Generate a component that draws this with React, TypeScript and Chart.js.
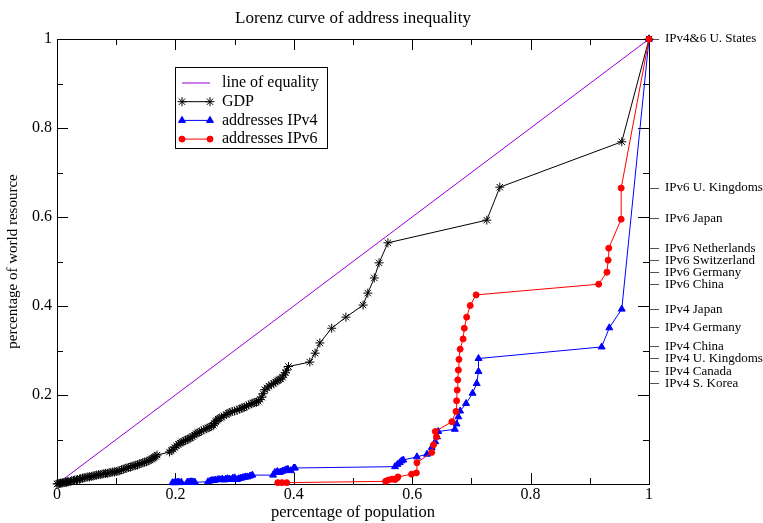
import React, { useEffect, useRef } from 'react';
import { Chart, registerables } from 'chart.js';
import { drawPoint } from 'chart.js/helpers';

Chart.register(...registerables);

const TITLE = 'Lorenz curve of address inequality';
const X_TITLE = 'percentage of population';
const Y_TITLE = 'percentage of world resource';
const SERIES_NAMES = ['line of equality', 'GDP', 'addresses IPv4', 'addresses IPv6'];

const EQUALITY_X = [0, 1];
const EQUALITY_Y = [0, 1];

const GDP_X = [
  0.0, 0.002, 0.004, 0.006, 0.008, 0.01, 0.012, 0.014, 0.016, 0.018, 0.02, 0.023, 0.025, 0.028, 0.03,
  0.033, 0.035, 0.038, 0.04, 0.043, 0.046, 0.049, 0.052, 0.055, 0.058, 0.061, 0.064, 0.067, 0.07, 0.073,
  0.076, 0.079, 0.082, 0.085, 0.088, 0.091, 0.094, 0.097, 0.1, 0.103, 0.106, 0.109, 0.112, 0.115, 0.118,
  0.121, 0.124, 0.127, 0.13, 0.133, 0.136, 0.139, 0.142, 0.145, 0.148, 0.151, 0.154, 0.157, 0.16, 0.162,
  0.164, 0.167, 0.169, 0.19, 0.193, 0.196, 0.199, 0.202, 0.205, 0.208, 0.211, 0.214, 0.217, 0.22, 0.223,
  0.226, 0.229, 0.232, 0.235, 0.238, 0.241, 0.244, 0.248, 0.252, 0.255, 0.258, 0.261, 0.264, 0.266, 0.268,
  0.27, 0.272, 0.275, 0.278, 0.282, 0.286, 0.289, 0.292, 0.296, 0.3, 0.304, 0.308, 0.311, 0.314, 0.317,
  0.32, 0.324, 0.328, 0.331, 0.334, 0.337, 0.34, 0.343, 0.346, 0.348, 0.351, 0.355, 0.358, 0.362, 0.366,
  0.369, 0.372, 0.375, 0.378, 0.381, 0.383, 0.386, 0.388, 0.391, 0.427, 0.436, 0.444, 0.464, 0.488, 0.517,
  0.525, 0.536, 0.544, 0.559, 0.726, 0.748, 0.954, 1.0,
];
const GDP_Y = [
  0.0, 0.001, 0.001, 0.002, 0.002, 0.003, 0.003, 0.004, 0.004, 0.005, 0.005, 0.006, 0.007, 0.008, 0.009,
  0.009, 0.01, 0.011, 0.012, 0.013, 0.014, 0.015, 0.016, 0.016, 0.017, 0.018, 0.019, 0.02, 0.021, 0.021,
  0.022, 0.023, 0.024, 0.024, 0.025, 0.026, 0.027, 0.027, 0.028, 0.029, 0.03, 0.032, 0.033, 0.035, 0.036,
  0.037, 0.038, 0.04, 0.041, 0.042, 0.043, 0.045, 0.046, 0.048, 0.049, 0.05, 0.052, 0.054, 0.056, 0.058,
  0.06, 0.062, 0.065, 0.072, 0.075, 0.078, 0.082, 0.086, 0.089, 0.092, 0.094, 0.096, 0.098, 0.1, 0.102,
  0.104, 0.107, 0.11, 0.113, 0.115, 0.117, 0.119, 0.122, 0.124, 0.126, 0.128, 0.13, 0.132, 0.136, 0.14,
  0.143, 0.146, 0.148, 0.15, 0.153, 0.156, 0.159, 0.161, 0.163, 0.164, 0.166, 0.168, 0.17, 0.171, 0.173,
  0.175, 0.178, 0.18, 0.182, 0.183, 0.184, 0.186, 0.19, 0.195, 0.203, 0.212, 0.216, 0.22, 0.223, 0.226,
  0.229, 0.232, 0.234, 0.236, 0.24, 0.245, 0.25, 0.256, 0.264, 0.274, 0.294, 0.317, 0.35, 0.375, 0.402,
  0.429, 0.463, 0.497, 0.542, 0.593, 0.667, 0.769, 1.0,
];

const IPV4_X = [
  0.195, 0.198, 0.2, 0.203, 0.205, 0.207, 0.21, 0.22, 0.222, 0.225, 0.228, 0.231, 0.233, 0.255, 0.259,
  0.262, 0.265, 0.268, 0.272, 0.275, 0.279, 0.282, 0.285, 0.288, 0.291, 0.294, 0.297, 0.3, 0.304, 0.307,
  0.31, 0.313, 0.316, 0.319, 0.322, 0.326, 0.33, 0.365, 0.368, 0.372, 0.375, 0.378, 0.381, 0.384, 0.387,
  0.39, 0.395, 0.4, 0.402, 0.571, 0.575, 0.579, 0.582, 0.585, 0.608, 0.625, 0.633, 0.639, 0.642, 0.644,
  0.672, 0.675, 0.678, 0.681, 0.691, 0.702, 0.709, 0.712, 0.712, 0.92, 0.933, 0.954, 1.0,
];
const IPV4_Y = [
  0.003, 0.003, 0.004, 0.004, 0.004, 0.003, 0.004, 0.004, 0.004, 0.005, 0.005, 0.004, 0.004, 0.005, 0.007,
  0.008, 0.008, 0.009, 0.01, 0.01, 0.011, 0.009, 0.011, 0.012, 0.011, 0.01, 0.013, 0.014, 0.01, 0.012,
  0.013, 0.014, 0.015, 0.016, 0.016, 0.018, 0.02, 0.02, 0.026, 0.028, 0.026, 0.027, 0.029, 0.03, 0.032,
  0.033, 0.03, 0.036, 0.036, 0.039, 0.044, 0.048, 0.052, 0.054, 0.061, 0.067, 0.082, 0.095, 0.106, 0.118,
  0.123, 0.135, 0.151, 0.164, 0.181, 0.204, 0.226, 0.253, 0.282, 0.308, 0.351, 0.393, 1.0,
];

const IPV6_X = [
  0.373, 0.38, 0.388, 0.555, 0.56, 0.566, 0.571, 0.574, 0.576, 0.599, 0.607, 0.608, 0.633,
  0.636, 0.641, 0.639, 0.667, 0.674, 0.675, 0.676, 0.677, 0.678, 0.679, 0.681, 0.686, 0.688, 0.692, 0.698,
  0.708, 0.915, 0.929, 0.931, 0.932, 0.953, 0.953, 1.0,
];
const IPV6_Y = [
  0.003, 0.003, 0.003, 0.006, 0.009, 0.011, 0.01, 0.013, 0.016, 0.022, 0.025, 0.048, 0.071,
  0.088, 0.106, 0.118, 0.14, 0.163, 0.187, 0.211, 0.234, 0.256, 0.28, 0.303, 0.326, 0.35, 0.375, 0.401,
  0.425, 0.449, 0.476, 0.503, 0.53, 0.595, 0.665, 1.0,
];

const RIGHT_VALUES = [1.0, 0.665, 0.596, 0.53, 0.503, 0.475, 0.449, 0.393, 0.351, 0.308, 0.281, 0.252, 0.225];
const RIGHT_LABELS = [
  'IPv4&6 U. States', 'IPv6 U. Kingdoms', 'IPv6 Japan', 'IPv6 Netherlands', 'IPv6 Switzerland',
  'IPv6 Germany', 'IPv6 China', 'IPv4 Japan', 'IPv4 Germany', 'IPv4 China', 'IPv4 U. Kingdoms',
  'IPv4 Canada', 'IPv4 S. Korea',
];

const FONT = "'Liberation Serif', 'Times New Roman', serif";
const fmt = (v: number) => String(Math.round(v * 10) / 10);
const pts = (xs: number[], ys: number[]) => xs.map((x, i) => ({ x, y: ys[i] }));

const innerTicks = {
  id: 'innerTicks',
  beforeDatasetsDraw(chart: any) {
    const { ctx, chartArea } = chart;
    const { left, right, top, bottom } = chartArea;
    const xs = chart.scales.x;
    const ys = chart.scales.y;
    ctx.save();
    ctx.strokeStyle = '#000';
    ctx.lineWidth = 1;
    ctx.beginPath();
    for (let k = 1; k < 10; k++) {
      const v = k / 10;
      const len = k % 2 === 0 ? 11 : 6;
      const px = Math.round(xs.getPixelForValue(v)) + 0.5;
      ctx.moveTo(px, bottom); ctx.lineTo(px, bottom - len);
      ctx.moveTo(px, top); ctx.lineTo(px, top + len);
      const py = Math.round(ys.getPixelForValue(v)) + 0.5;
      ctx.moveTo(left, py); ctx.lineTo(left + len, py);
      ctx.moveTo(right, py); ctx.lineTo(right - len, py);
    }
    ctx.stroke();
    ctx.restore();
  },
};

const LEGEND_ORDER = [3, 2, 1, 0];

const boxLegend = {
  id: 'boxLegend',
  afterDraw(chart: any) {
    const { ctx } = chart;
    ctx.save();
    ctx.fillStyle = '#fff';
    ctx.fillRect(175.5, 67.5, 152, 81);
    ctx.strokeStyle = '#000';
    ctx.lineWidth = 1;
    ctx.strokeRect(175.5, 67.5, 152, 81);
    LEGEND_ORDER.forEach((dsIndex, i) => {
      const ds = chart.data.datasets[dsIndex];
      const y = 83 + i * 18.7;
      ctx.strokeStyle = ds.borderColor;
      ctx.lineWidth = 1;
      ctx.beginPath();
      ctx.moveTo(182, y);
      ctx.lineTo(210, y);
      ctx.stroke();
      if (ds.pointRadius > 0) {
        ctx.fillStyle = ds.backgroundColor;
        ctx.strokeStyle = ds.borderColor;
        ctx.lineWidth = ds.pointBorderWidth;
        const o = { pointStyle: ds.pointStyle, rotation: 0, radius: ds.pointRadius, borderWidth: ds.pointBorderWidth };
        drawPoint(ctx, o, 182, y);
        drawPoint(ctx, o, 210, y);
      }
      ctx.fillStyle = '#000';
      ctx.font = `16px ${FONT}`;
      ctx.textBaseline = 'middle';
      ctx.textAlign = 'left';
      ctx.fillText(ds.label, 222, y);
    });
    ctx.restore();
  },
};

export default function App() {
  const ref = useRef<HTMLCanvasElement>(null);
  useEffect(() => {
    if (!ref.current) return;
    Chart.defaults.font.family = FONT;
    const chart = new Chart(ref.current, {
      type: 'scatter',
      data: {
        datasets: [
          {
            label: SERIES_NAMES[3], data: pts(IPV6_X, IPV6_Y), showLine: true,
            borderColor: '#ff0000', backgroundColor: '#ff0000', borderWidth: 1,
            pointStyle: 'circle', pointRadius: 3, pointBorderWidth: 1, clip: false,
          } as any,
          {
            label: SERIES_NAMES[2], data: pts(IPV4_X, IPV4_Y), showLine: true,
            borderColor: '#0000ff', backgroundColor: '#0000ff', borderWidth: 1,
            pointStyle: 'triangle', pointRadius: 4, pointBorderWidth: 1, clip: false,
          },
          {
            label: SERIES_NAMES[1], data: pts(GDP_X, GDP_Y), showLine: true,
            borderColor: '#000000', backgroundColor: '#000000', borderWidth: 1,
            pointStyle: 'star', pointRadius: 4.5, pointBorderWidth: 1, clip: false,
          },
          {
            label: SERIES_NAMES[0], data: pts(EQUALITY_X, EQUALITY_Y), showLine: true,
            borderColor: '#9400d3', backgroundColor: '#9400d3', borderWidth: 1,
            pointRadius: 0, pointBorderWidth: 0, clip: false,
          },
        ],
      },
      options: {
        responsive: false,
        animation: false,
        layout: { padding: 0 },
        plugins: { legend: { display: false }, tooltip: { enabled: false }, title: { display: false } },
        scales: {
          x: {
            type: 'linear', position: 'bottom', min: 0, max: 1,
            grid: { display: false, drawTicks: false },
            border: { display: true, color: '#000', width: 1 },
            ticks: { stepSize: 0.2, padding: 1, color: '#000', font: { size: 16 }, callback: (v: any) => fmt(Number(v)), autoSkip: false, maxRotation: 0 },
            title: { display: true, text: X_TITLE, color: '#000', font: { size: 16.5 }, padding: { top: 0, bottom: 0 } },
            afterFit: (s: any) => { s.height = 39; },
          },
          x2: {
            type: 'linear', position: 'top', min: 0, max: 1,
            grid: { display: false, drawTicks: false },
            border: { display: true, color: '#000', width: 1 },
            ticks: { display: false },
            title: { display: true, text: TITLE, color: '#000', font: { size: 17 }, padding: { top: 8, bottom: 0 } },
            afterFit: (s: any) => { s.height = 39; },
          },
          y: {
            type: 'linear', position: 'left', min: 0, max: 1,
            grid: { display: false, drawTicks: false },
            border: { display: true, color: '#000', width: 1 },
            ticks: { stepSize: 0.2, padding: 5, color: '#000', font: { size: 16 }, callback: (v: any) => (Number(v) === 0 ? '' : fmt(Number(v))) },
            title: { display: true, text: Y_TITLE, color: '#000', font: { size: 15 }, padding: { top: 4, bottom: 0 } },
            afterFit: (s: any) => { s.width = 57; },
          },
          y2: {
            type: 'linear', position: 'right', min: 0, max: 1,
            afterBuildTicks: (s: any) => { s.ticks = RIGHT_VALUES.map((v) => ({ value: v })); },
            grid: { display: true, drawOnChartArea: false, drawTicks: true, tickLength: 10, color: '#555' },
            border: { display: true, color: '#000', width: 1 },
            ticks: { autoSkip: false, padding: 6, color: '#000', font: { size: 13 }, callback: (_v: any, i: number) => RIGHT_LABELS[i] },
            afterFit: (s: any) => { s.width = 114; },
          },
        },
      } as any,
      plugins: [innerTicks, boxLegend],
    });
    return () => chart.destroy();
  }, []);
  return (
    <div style={{ position: 'absolute', left: 0, top: 0, width: 763, height: 523, background: '#fff' }}>
      <canvas ref={ref} width={763} height={523} style={{ display: 'block' }} />
    </div>
  );
}
